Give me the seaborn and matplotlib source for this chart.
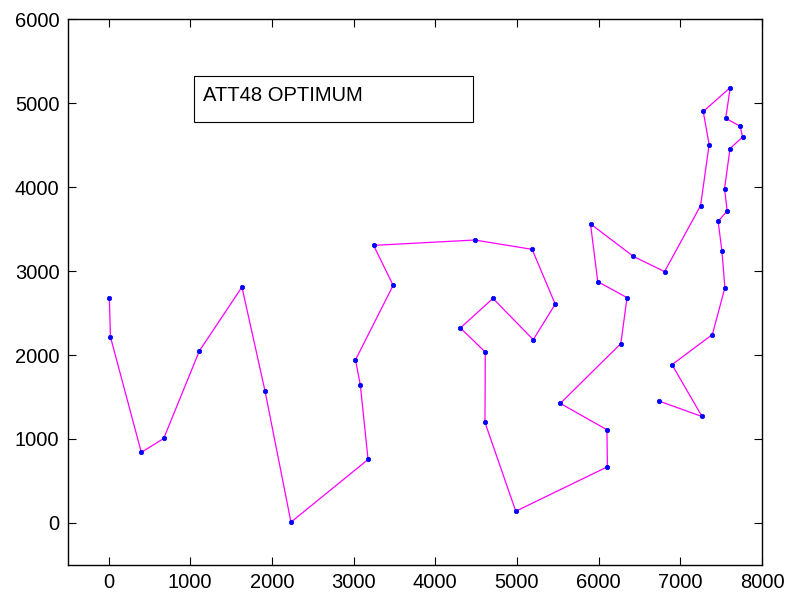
import matplotlib
matplotlib.use("Agg")
import matplotlib.pyplot as plt
import seaborn as sns
from matplotlib.patches import Rectangle

# ATT48 city coordinates, listed in optimal tour order
tour_x = [6734, 7265, 6898, 7392, 7545, 7509, 7462, 7573, 7541, 7608, 7762, 7732,
          7555, 7611, 7280, 7352, 7248, 6807, 6426, 5900, 5989, 6347, 6271, 5530,
          6101, 6107, 4985, 4608, 4612, 4307, 4706, 5199, 5468, 5185, 4483, 3245,
          3484, 3023, 3082, 3177, 2233, 1916, 1633, 1112, 675, 401, 23, 10]
tour_y = [1453, 1268, 1885, 2244, 2801, 3239, 3590, 3716, 3981, 4458, 4595, 4723,
          4819, 5184, 4899, 4506, 3779, 2993, 3173, 3561, 2873, 2683, 2135, 1424,
          1110, 669, 140, 1198, 2035, 2322, 2674, 2182, 2606, 3258, 3369, 3305,
          2829, 1942, 1644, 756, 10, 1569, 2809, 2049, 1006, 841, 2216, 2676]

x_ticks = [0, 1000, 2000, 3000, 4000, 5000, 6000, 7000, 8000]
y_ticks = [0, 1000, 2000, 3000, 4000, 5000, 6000]
label = "ATT48 OPTIMUM"

sns.set_style("ticks")
plt.rcParams["font.family"] = ["Liberation Sans", "DejaVu Sans"]
plt.rcParams["text.color"] = "black"
plt.rcParams["xtick.color"] = "black"
plt.rcParams["ytick.color"] = "black"
plt.rcParams["xtick.labelcolor"] = "black"
plt.rcParams["ytick.labelcolor"] = "black"

fig = plt.figure(figsize=(7.91, 5.98), dpi=100)
ax = fig.add_axes([0.0856, 0.0552, 0.8778, 0.9130])

sns.lineplot(x=tour_x, y=tour_y, sort=False, estimator=None, ax=ax,
             color="#ff00ff", linewidth=0.9,
             marker="o", markersize=3.2, markerfacecolor="#0000ff",
             markeredgecolor="#0000ff", markeredgewidth=0.5)

ax.set_xlim(-500, 8000)
ax.set_ylim(-500, 6000)
ax.set_xticks(x_ticks)
ax.set_yticks(y_ticks)
ax.tick_params(direction="in", length=6, width=0.8, labelsize=14.5,
               top=True, right=True, pad=6, colors="black", labelcolor="black")
for side in ax.spines.values():
    side.set_visible(True)
    side.set_linewidth(1.0)
    side.set_color("black")

# legend-style label box
ax.add_patch(Rectangle((1040, 4775), 3420, 545, facecolor="white",
                       edgecolor="black", linewidth=0.8, zorder=3))
ax.text(1160, 5090, label, fontsize=14.5, color="black",
        va="center", ha="left", zorder=4)

fig.savefig("out.png", dpi=100)
